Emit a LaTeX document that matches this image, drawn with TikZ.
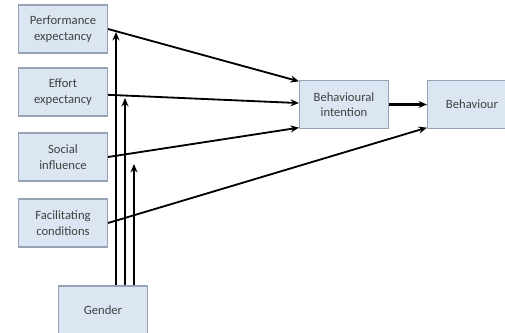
\documentclass[tikz,border=0pt]{standalone}
\usepackage{fontspec}
\setmainfont{Carlito}
\usepackage{xcolor}
\usetikzlibrary{positioning,calc,arrows.meta}

\definecolor{boxfill}{HTML}{DCE6F2}
\definecolor{boxline}{HTML}{95A3B5}
\definecolor{boxtext}{HTML}{404040}

\begin{document}
\begin{tikzpicture}[>={Stealth[black,length=6pt,width=5pt]},
                    every node/.style={rectangle,draw=boxline,fill=boxfill,thick,
                      text=boxtext,align=center,font=\fontsize{9}{11}\selectfont,
                      minimum width=2.225cm,minimum height=1.2cm},
                    link/.style={->,line width=1.3pt}]
    \useasboundingbox (0,0) rectangle (12.625,-8.325);
    %Nodes
        \node (pe) at (1.575,-0.725) {Performance\\expectancy};
        \node (ee) at (1.575,-2.3) {Effort\\expectancy};
        \node (si) at (1.575,-3.925) {Social\\influence};
        \node (fc) at (1.575,-5.575) {Facilitating\\conditions};
        \node (gender) at (2.575,-7.75) {Gender};
        \node (bi) at (8.6,-2.6125) {Behavioural\\intention};
        \node (beh) at (11.8,-2.6125) {Behaviour};

    %Points
        \coordinate (g1) at (2.9,-7.125);
        \coordinate (g2) at (3.125,-7.125);
        \coordinate (g3) at (3.35,-7.125);
        \coordinate (t1) at (2.9,-0.8);
        \coordinate (t2) at (3.125,-2.45);
        \coordinate (t3) at (3.35,-4.1);

    %Lines
        \draw[link] (pe.east) -- ([yshift=-1pt]bi.north west);
        \draw[link] ([yshift=-2pt]ee.east) -- ([yshift=1pt]bi.west);
        \draw[link] (si.east) -- ([yshift=1pt]bi.south west);
        \draw[link] (fc.east) -- ([yshift=1pt]beh.south west);
        \draw[->,line width=2pt] (bi) -- (beh);
        \draw[->,line width=1.6pt] (g1) -- (t1);
        \draw[->,line width=1.1pt] (g2) -- (t2);
        \draw[->,line width=0.9pt] (g3) -- (t3);
\end{tikzpicture}
\end{document}
